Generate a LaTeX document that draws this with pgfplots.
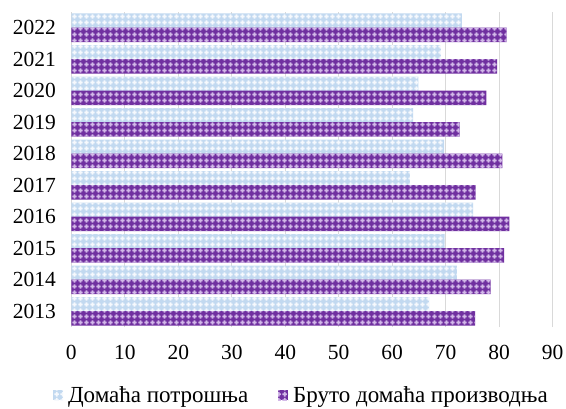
\documentclass[border=0pt]{standalone}
\usepackage{pgfplots}
\pgfplotsset{compat=1.18}
\usetikzlibrary{patterns}
\usepackage{fontspec}
\setmainfont{Liberation Serif}
\definecolor{lb}{HTML}{C2D9F0}
\definecolor{pu}{HTML}{7030A0}
\definecolor{pul}{HTML}{D2B8E8}
\definecolor{gr}{HTML}{D9D9D9}
\pgfdeclarepatternformonly{plusgrid}{\pgfpointorigin}{\pgfpoint{6bp}{6bp}}{\pgfpoint{6bp}{6bp}}{%
  \pgfpathrectangle{\pgfpoint{0.5bp}{2bp}}{\pgfpoint{5bp}{2bp}}%
  \pgfpathrectangle{\pgfpoint{2bp}{0.5bp}}{\pgfpoint{2bp}{5bp}}%
  \pgfusepath{fill}}
\pgfplotstableread{
idx cons prod
0 66.9 75.5
1 72.1 78.4
2 69.8 80.9
3 75.1 81.9
4 63.3 75.6
5 69.7 80.6
6 63.9 72.6
7 64.9 77.6
8 69.1 79.6
9 73.0 81.4
}\datatable
\begin{document}
\begin{tikzpicture}[x=1bp,y=1bp]
\path[use as bounding box] (0,0) rectangle (566,408);
\begin{axis}[
  at={(71.3bp,81bp)}, anchor=south west,
  scale only axis, width=481.4bp, height=315bp,
  xmin=0, xmax=90, ymin=-0.5, ymax=9.5,
  xbar, bar width=14.5bp,
  xtick={0,10,...,90},
  ytick={0,...,9},
  yticklabels={2013,2014,2015,2016,2017,2018,2019,2020,2021,2022},
  /pgf/number format/assume math mode=true,
  ticklabel style={font=\fontsize{21.5bp}{25bp}\selectfont, text=black},
  xticklabel style={yshift=-15bp},
  yticklabel style={xshift=-12bp},
  axis line style={draw=none},
  major tick length=0pt,
  xmajorgrids, grid style={gr, line width=1.2bp},
  legend style={draw=none, at={(0.478,-0.216)}, anchor=center,
    legend columns=2, font=\fontsize{23bp}{27bp}\selectfont,
    /tikz/every odd column/.append style={column sep=3bp},
    /tikz/every even column/.append style={column sep=28bp},
    inner sep=0pt},
  legend image code/.code={\path[#1, draw=none] (0bp,-5bp) rectangle (10bp,5bp);},
]
\addplot[fill=lb, draw=none, bar shift=7bp,
  postaction={pattern=plusgrid, pattern color=white!85!lb}]
  table[x=cons, y=idx] {\datatable};
\addlegendentry{Домаћа потрошња}
\addplot[fill=pu, draw=none, bar shift=-7bp,
  postaction={pattern=plusgrid, pattern color=pul}]
  table[x=prod, y=idx] {\datatable};
\addlegendentry{Бруто домаћа производња}
\end{axis}
\end{tikzpicture}
\end{document}
